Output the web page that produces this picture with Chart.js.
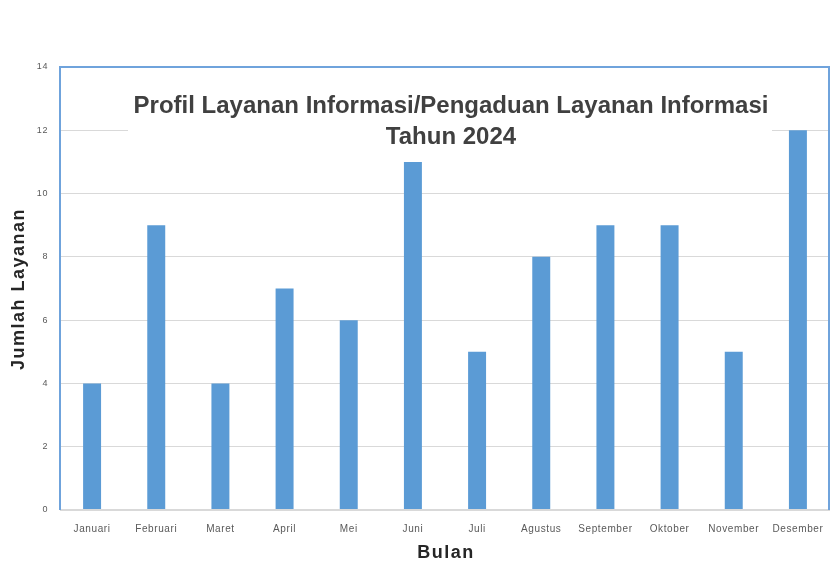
<!DOCTYPE html>
<html><head><meta charset="utf-8">
<script src="https://cdn.jsdelivr.net/npm/chart.js@4/dist/chart.umd.min.js"></script>
<style>html,body{margin:0;padding:0;background:#fff}#wrap{width:830px;height:564px}</style>
</head><body><div id="wrap"><canvas id="c" width="830" height="564"></canvas></div>
<script>
const months = ["Januari","Februari","Maret","April","Mei","Juni","Juli","Agustus","September","Oktober","November","Desember"];
const jumlah = [4,9,4,7,6,11,5,8,9,9,5,12];
const yTicks = [0,2,4,6,8,10,12,14];
const titleLines = ["Profil Layanan Informasi/Pengaduan Layanan Informasi","Tahun 2024"];
const xTitle = "Bulan";
const yTitle = "Jumlah Layanan";
const FONT = '"Liberation Sans", Arial, sans-serif';

const framePlugin = {
  id:'frame',
  beforeDraw(chart){
    chart.ctx.letterSpacing='0.6px';
  },
  beforeDatasetsDraw(chart){
    const {ctx} = chart;
    ctx.save();
    ctx.letterSpacing='0px';
    ctx.fillStyle='#fff';
    ctx.fillRect(128,84,644,72);
    ctx.fillStyle='#404040';
    ctx.font='bold 24px '+FONT;
    ctx.textAlign='center';ctx.textBaseline='middle';
    ctx.fillText(titleLines[0],451,106);
    ctx.fillText(titleLines[1],451,137);
    ctx.restore();
  },
  afterDraw(chart){
    const {ctx, chartArea:a} = chart;
    ctx.save();
    ctx.strokeStyle='#6fa3dc';ctx.lineWidth=2;
    ctx.beginPath();
    ctx.moveTo(a.left, a.bottom);ctx.lineTo(a.left,a.top);ctx.lineTo(a.right-1,a.top);ctx.lineTo(a.right-1,a.bottom);
    ctx.stroke();
    ctx.strokeStyle='#d9d9d9';ctx.lineWidth=2;
    ctx.beginPath();ctx.moveTo(a.left+1,a.bottom);ctx.lineTo(a.right-2,a.bottom);ctx.stroke();
    ctx.fillStyle='#262626';
    ctx.font='bold 18px '+FONT;
    ctx.letterSpacing='1.5px';
    ctx.textAlign='center';ctx.textBaseline='middle';
    ctx.fillText(xTitle,446,553);
    ctx.translate(19,289);ctx.rotate(-Math.PI/2);
    ctx.fillText(yTitle,0,0);
    ctx.restore();
  }
};

new Chart(document.getElementById('c'),{
  type:'bar',
  data:{labels:months,datasets:[{data:jumlah,backgroundColor:'#5b9bd5',barPercentage:0.28,categoryPercentage:1}]},
  options:{
    responsive:false,animation:false,
    layout:{padding:{top:67,right:0,left:0,bottom:0},autoPadding:false},
    plugins:{legend:{display:false},tooltip:{enabled:false}},
    scales:{
      x:{
        grid:{display:false},border:{display:false},
        ticks:{color:'#595959',font:{size:10,family:FONT},maxRotation:0,autoSkip:false,padding:5},
        afterFit(s){s.height=54;s.paddingLeft=0;s.paddingRight=0;}
      },
      y:{
        min:0,max:14,
        afterBuildTicks(s){s.ticks=yTicks.map(v=>({value:v}));},
        grid:{color:'#d9d9d9',lineWidth:1,drawTicks:false},
        border:{display:false},
        ticks:{color:'#595959',font:{size:9,family:FONT},padding:12},
        afterFit(s){s.width=60;s.paddingTop=0;s.paddingBottom=0;}
      }
    }
  },
  plugins:[framePlugin]
});
</script></body></html>
